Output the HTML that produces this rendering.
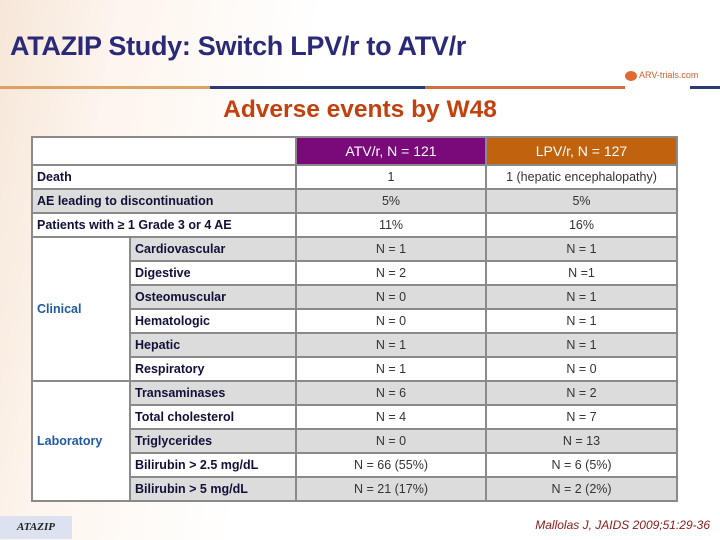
<!DOCTYPE html>
<html><head><meta charset="utf-8"><style>
body{margin:0;width:720px;height:540px;overflow:hidden;font-family:"Liberation Sans",sans-serif;background:linear-gradient(100deg,#f6e6d8 0%,#fdf5ee 15%,#fff 40%,#fff 100%);position:relative}
.t{position:absolute;left:10px;top:31px;font-size:27px;font-weight:bold;color:#2b2a78;letter-spacing:-0.3px}
.line{position:absolute;top:86px;height:3px;}
.sub{position:absolute;left:0;width:720px;top:96px;text-align:center;font-size:24.5px;font-weight:bold;color:#c2410e}
table{position:absolute;left:31px;top:136px;border-collapse:collapse;table-layout:fixed;width:647px}
td{border:2px solid #8a8a8a;height:20px;padding:1px 4px;font-size:12.5px;color:#333;text-align:center;white-space:nowrap;overflow:hidden}
td.l{text-align:left;font-weight:bold;color:#111038}
tr.g td{background:#dcdcdc}
tr.w td{background:#fff}
td.cat{background:#fff!important;text-align:left;color:#1f5aa0;font-weight:bold}
th{height:24px;border:2px solid #8a8a8a;color:#fff;font-size:14px;font-weight:normal}
.foot{position:absolute;left:0;top:516px;width:72px;height:23px;background:#dde2f0;font-family:"Liberation Serif",serif;font-style:italic;font-weight:bold;font-size:11px;color:#222;line-height:23px;text-align:center}
.ref{position:absolute;right:10px;top:518px;font-size:12px;font-style:italic;color:#8b1a1a}
.logo{position:absolute;left:625px;top:70px;font-size:9px;color:#d06030}
</style></head><body>
<div class="t">ATAZIP Study: Switch LPV/r to ATV/r</div>
<div class="line" style="left:0;width:210px;background:#e0a060"></div>
<div class="line" style="left:210px;width:215px;background:#2b3a78"></div>
<div class="line" style="left:425px;width:200px;background:#d07040"></div>
<div class="line" style="left:690px;width:30px;background:#2b3a78"></div>
<div class="logo"><span style="display:inline-block;width:12px;height:10px;border-radius:50%;background:#e06a30;vertical-align:middle"></span> ARV-trials.com</div>
<div class="sub">Adverse events by W48</div>
<table>
<colgroup><col style="width:98px"><col style="width:166px"><col style="width:190px"><col style="width:191px"></colgroup>
<tr><th colspan="2" style="background:#fff"></th><th style="background:#7a0a7a">ATV/r, N = 121</th><th style="background:#c0620e">LPV/r, N = 127</th></tr>
<tr class="w"><td class="l" colspan="2">Death</td><td>1</td><td>1 (hepatic encephalopathy)</td></tr>
<tr class="g"><td class="l" colspan="2">AE leading to discontinuation</td><td>5%</td><td>5%</td></tr>
<tr class="w"><td class="l" colspan="2">Patients with ≥ 1 Grade 3 or 4 AE</td><td>11%</td><td>16%</td></tr>
<tr class="g"><td class="cat" rowspan="6">Clinical</td><td class="l">Cardiovascular</td><td>N = 1</td><td>N = 1</td></tr>
<tr class="w"><td class="l">Digestive</td><td>N = 2</td><td>N =1</td></tr>
<tr class="g"><td class="l">Osteomuscular</td><td>N = 0</td><td>N = 1</td></tr>
<tr class="w"><td class="l">Hematologic</td><td>N = 0</td><td>N = 1</td></tr>
<tr class="g"><td class="l">Hepatic</td><td>N = 1</td><td>N = 1</td></tr>
<tr class="w"><td class="l">Respiratory</td><td>N = 1</td><td>N = 0</td></tr>
<tr class="g"><td class="cat" rowspan="5">Laboratory</td><td class="l">Transaminases</td><td>N = 6</td><td>N = 2</td></tr>
<tr class="w"><td class="l">Total cholesterol</td><td>N = 4</td><td>N = 7</td></tr>
<tr class="g"><td class="l">Triglycerides</td><td>N = 0</td><td>N = 13</td></tr>
<tr class="w"><td class="l">Bilirubin &gt; 2.5 mg/dL</td><td>N = 66 (55%)</td><td>N = 6 (5%)</td></tr>
<tr class="g"><td class="l">Bilirubin &gt; 5 mg/dL</td><td>N = 21 (17%)</td><td>N = 2 (2%)</td></tr>
</table>
<div class="foot">ATAZIP</div>
<div class="ref">Mallolas J, JAIDS 2009;51:29-36</div>
</body></html>
